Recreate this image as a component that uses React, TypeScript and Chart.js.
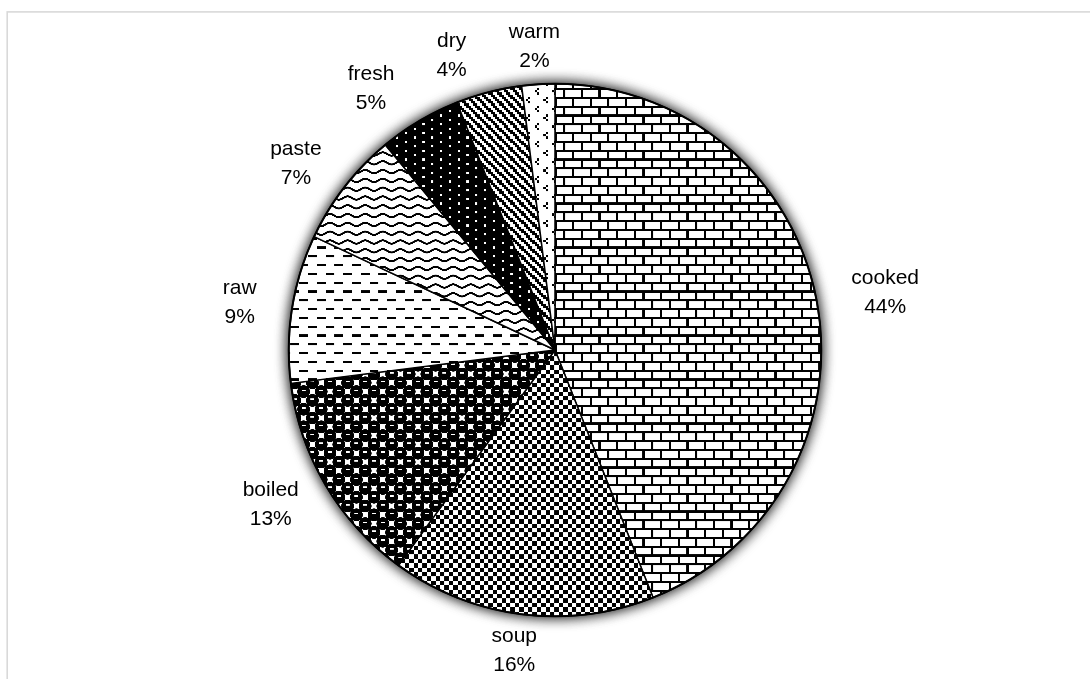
import React, { useEffect, useRef } from 'react';
import { Chart, registerables } from 'chart.js';

Chart.register(...registerables);

// ---- data ----
const categories = ['cooked', 'soup', 'boiled', 'raw', 'paste', 'fresh', 'dry', 'warm'];
const shares = [44, 16, 13, 9, 7, 5, 4, 2];
const percentLabels = ['44%', '16%', '13%', '9%', '7%', '5%', '4%', '2%'];

// ---- style constants ----
const W = 1090;
const H = 679;
const UNIT = 2.2; // px per pattern cell
const RES = 10; // hi-res factor for pattern tiles
const FONT = '21px "Liberation Sans", Arial, sans-serif';
const LINE = 29;
const LABEL_GAP_X = 36;
const LABEL_RY = 1.14;
const LABEL_GAP = 42;

type Drawer = (c: CanvasRenderingContext2D, s: number) => void;

function makePattern(ctx: CanvasRenderingContext2D, wu: number, hu: number, draw: Drawer): CanvasPattern {
  const c = document.createElement('canvas');
  c.width = wu * RES;
  c.height = hu * RES;
  const g = c.getContext('2d')!;
  g.fillStyle = '#fff';
  g.fillRect(0, 0, c.width, c.height);
  g.fillStyle = '#000';
  g.strokeStyle = '#000';
  draw(g, RES);
  const p = ctx.createPattern(c, 'repeat')!;
  p.setTransform(new DOMMatrix().scale(UNIT / RES));
  return p;
}

function bitmap(rows: string[], invert = false): Drawer {
  return (g, s) => {
    if (invert) {
      g.fillStyle = '#000';
      g.fillRect(0, 0, rows[0].length * s, rows.length * s);
      g.fillStyle = '#fff';
    }
    rows.forEach((r, y) => {
      for (let x = 0; x < r.length; x++) if (r[x] === '#') g.fillRect(x * s, y * s, s, s);
    });
  };
}

const brick = bitmap([
  '########',
  '#.......',
  '#.......',
  '#.......',
  '########',
  '....#...',
  '....#...',
  '....#...',
]);

const smallCheck = bitmap([
  '##..##..',
  '##..##..',
  '..##..##',
  '..##..##',
  '##..##..',
  '##..##..',
  '..##..##',
  '..##..##',
]);

const sphere: Drawer = (g, s) => {
  const centers: number[][] = [];
  for (let i = -1; i <= 1; i++)
    for (let j = -1; j <= 1; j++) {
      centers.push([2 + 8 * i, 2 + 8 * j]);
      centers.push([6 + 8 * i, 6 + 8 * j]);
    }
  g.fillStyle = '#000';
  centers.forEach(([x, y]) => {
    g.beginPath();
    g.arc(x * s, y * s, 2.9 * s, 0, Math.PI * 2);
    g.fill();
  });
  g.fillStyle = '#fff';
  centers.forEach(([x, y]) => {
    g.fillRect((x - 0.9) * s, (y - 0.9) * s, 1.8 * s, 0.7 * s);
  });
};

const dashHorz = bitmap([
  '####....',
  '........',
  '........',
  '........',
  '....####',
  '........',
  '........',
  '........',
]);

const wave: Drawer = (g, s) => {
  g.lineWidth = 0.9 * s;
  [2, 6].forEach((y0) => {
    g.beginPath();
    for (let x = -1; x <= 9; x += 0.1) {
      const y = y0 + 0.75 * Math.sin((x / 8) * Math.PI * 2);
      if (x === -1) g.moveTo(x * s, y * s);
      else g.lineTo(x * s, y * s);
    }
    g.stroke();
  });
};

const pct90 = bitmap(
  [
    '#.......',
    '........',
    '....#...',
    '........',
    '#.......',
    '........',
    '....#...',
    '........',
  ],
  true
);

const dkDnDiag = bitmap([
  '##..##..',
  '.##..##.',
  '..##..##',
  '#..##..#',
  '##..##..',
  '.##..##.',
  '..##..##',
  '#..##..#',
]);

const confetti = bitmap([
  '....#...',
  '...#....',
  '....#...',
  '........',
  '#.......',
  '.......#',
  '#.......',
  '........',
]);

const sliceDrawers: Drawer[] = [brick, smallCheck, sphere, dashHorz, wave, pct90, dkDnDiag, confetti];

const frame = {
  id: 'frame',
  beforeDraw(chart: any) {
    const ctx = chart.ctx;
    ctx.save();
    ctx.strokeStyle = '#d9d9d9';
    ctx.lineWidth = 1.6;
    ctx.strokeRect(7.2, 11.9, 2000, 2000);
    ctx.restore();
  },
};

const shadow = {
  id: 'pieShadow',
  beforeDatasetsDraw(chart: any) {
    const arc = chart.getDatasetMeta(0).data[0];
    if (!arc) return;
    const ctx = chart.ctx;
    ctx.save();
    ctx.beginPath();
    ctx.arc(arc.x, arc.y, arc.outerRadius, 0, Math.PI * 2);
    ctx.fillStyle = '#fff';
    ctx.shadowColor = 'rgba(0,0,0,0.75)';
    ctx.shadowBlur = 14;
    ctx.fill();
    ctx.fill();
    ctx.restore();
  },
  afterDatasetsDraw(chart: any) {
    const arc = chart.getDatasetMeta(0).data[0];
    if (!arc) return;
    const ctx = chart.ctx;
    ctx.save();
    ctx.beginPath();
    ctx.arc(arc.x, arc.y, arc.outerRadius, 0, Math.PI * 2);
    ctx.strokeStyle = '#000';
    ctx.lineWidth = 2;
    ctx.stroke();
    ctx.restore();
  },
};

const outsideLabels = {
  id: 'outsideLabels',
  afterDatasetsDraw(chart: any) {
    const ctx = chart.ctx;
    const meta = chart.getDatasetMeta(0);
    ctx.save();
    ctx.font = FONT;
    const pieX = meta.data[0].x;
    const boxes = meta.data.map((arc: any, i: number) => {
      const mid = (arc.startAngle + arc.endAngle) / 2;
      const lines = [categories[i], percentLabels[i]];
      const w = Math.max(...lines.map((l) => ctx.measureText(l).width));
      return {
        cx: arc.x + Math.cos(mid) * (arc.outerRadius + LABEL_GAP_X + w / 2),
        cy: arc.y + Math.sin(mid) * arc.outerRadius * LABEL_RY,
        w,
        lines,
      };
    });
    for (let i = boxes.length - 1; i > 0; i--) {
      const a = boxes[i];
      const b = boxes[i - 1];
      if (b.cx < pieX && Math.abs(a.cy - b.cy) < LINE * 2) {
        const maxRight = a.cx - a.w / 2 - LABEL_GAP;
        if (b.cx + b.w / 2 > maxRight) b.cx = maxRight - b.w / 2;
      }
    }
    ctx.fillStyle = '#000';
    ctx.textAlign = 'center';
    ctx.textBaseline = 'middle';
    boxes.forEach((b: any) => {
      ctx.fillText(b.lines[0], b.cx, b.cy - LINE / 2);
      ctx.fillText(b.lines[1], b.cx, b.cy + LINE / 2);
    });
    ctx.restore();
  },
};

export default function App() {
  const ref = useRef<HTMLCanvasElement>(null);
  useEffect(() => {
    const canvas = ref.current!;
    const ctx = canvas.getContext('2d')!;
    const patterns = sliceDrawers.map((d) => makePattern(ctx, 8, 8, d));
    const chart = new Chart(canvas, {
      type: 'pie',
      data: {
        labels: categories,
        datasets: [
          {
            data: shares,
            backgroundColor: patterns as any,
            borderColor: '#000',
            borderWidth: 1.5,
            hoverOffset: 0,
          },
        ],
      },
      options: {
        responsive: false,
        animation: false,
        events: [],
        layout: { padding: { left: 288, right: 268, top: 83, bottom: 62 } },
        plugins: {
          legend: { display: false },
          tooltip: { enabled: false },
        },
      },
      plugins: [frame, shadow, outsideLabels],
    });
    return () => chart.destroy();
  }, []);
  return (
    <div style={{ position: 'fixed', left: 0, top: 0, width: W, height: H, background: '#fff' }}>
      <canvas ref={ref} width={W} height={H} style={{ display: 'block', width: W, height: H }} />
    </div>
  );
}
